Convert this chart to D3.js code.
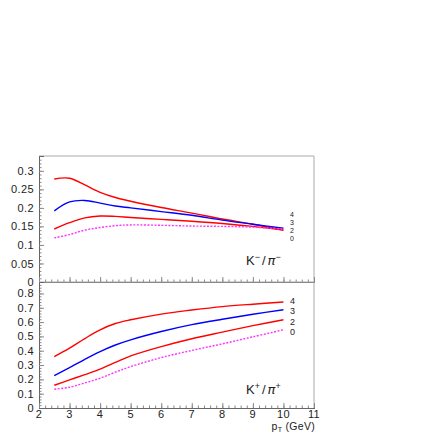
<!DOCTYPE html>
<html><head><meta charset="utf-8">
<script src="https://cdn.jsdelivr.net/npm/d3@7"></script>
<style>
body{margin:0;background:#fff;}
text{font-family:"Liberation Sans",Arial,Helvetica,sans-serif;}
</style></head>
<body><svg id="c" width="425" height="440"></svg>
<script>
// ---- data ----
const pT = [2.5, 3, 3.5, 4, 4.5, 5, 6, 7, 8, 9, 10];
const seriesNames = ["4", "3", "2", "0"];
// K-/pi- (top panel)
const kmRed4  = [0.278, 0.280, 0.262, 0.242, 0.228, 0.218, 0.201, 0.186, 0.170, 0.156, 0.140];
const kmBlue3 = [0.192, 0.216, 0.220, 0.213, 0.205, 0.200, 0.190, 0.180, 0.167, 0.156, 0.145];
const kmRed2  = [0.143, 0.160, 0.173, 0.178, 0.177, 0.174, 0.169, 0.164, 0.158, 0.150, 0.140];
const kmMag0  = [0.119, 0.128, 0.140, 0.147, 0.152, 0.154, 0.153, 0.151, 0.150, 0.148, 0.143];
// K+/pi+ (bottom panel)
const kpRed4  = [0.359, 0.418, 0.485, 0.546, 0.590, 0.616, 0.656, 0.684, 0.708, 0.725, 0.740];
const kpBlue3 = [0.226, 0.282, 0.340, 0.394, 0.440, 0.476, 0.534, 0.582, 0.620, 0.655, 0.686];
const kpRed2  = [0.159, 0.196, 0.233, 0.271, 0.318, 0.364, 0.429, 0.484, 0.530, 0.575, 0.616];
const kpMag0  = [0.131, 0.145, 0.175, 0.208, 0.250, 0.289, 0.352, 0.402, 0.448, 0.497, 0.546];
const topTicks = [0, 0.05, 0.1, 0.15, 0.2, 0.25, 0.3];
const botTicks = [0, 0.1, 0.2, 0.3, 0.4, 0.5, 0.6, 0.7, 0.8];
const xTicks = [2, 3, 4, 5, 6, 7, 8, 9, 10, 11];

// ---- layout ----
const L = 39, R = 314, T1 = 156, B1 = 282, B2 = 408;
const svg = d3.select("#c");
const x = d3.scaleLinear().domain([2, 11]).range([L, R]);
const yTop = d3.scaleLinear().domain([0, 0.34]).range([B1, T1]);
const yBot = d3.scaleLinear().domain([0, 0.88]).range([B2, B1]);

const colors = ["#ff0000", "#0000ff", "#ff0000", "#ff33ff"];

function panel(y, ticks, minorStep, data, labelYs, labelSize) {
  const [y0, y1] = y.range();
  svg.append("path").attr("d", `M${L},${y1}H${R}V${y0}`).attr("fill","none").attr("stroke","#aaa").attr("stroke-width",1);
  const minor = d3.range(0, y.domain()[1] + 1e-9, minorStep);
  const gm = svg.append("g").attr("transform", `translate(${L},0)`)
    .call(d3.axisLeft(y).tickValues(minor).tickSize(-2.5).tickFormat(""));
  const gM = svg.append("g").attr("transform", `translate(${L},0)`)
    .call(d3.axisLeft(y).tickValues(ticks).tickSize(-5).tickPadding(5).tickFormat(d => d3.format("")(+d.toFixed(2))));
  const xminor = d3.range(2, 11.0001, 0.2);
  const gxm = svg.append("g").attr("transform", `translate(0,${y0})`)
    .call(d3.axisBottom(x).tickValues(xminor).tickSize(-2.5).tickFormat(""));
  const gx = svg.append("g").attr("transform", `translate(0,${y0})`)
    .call(d3.axisBottom(x).tickValues(xTicks).tickSize(-5).tickPadding(4).tickFormat(""));
  [gm, gM, gxm, gx].forEach(g => {
    g.selectAll(".domain").attr("stroke", "#666");
    g.selectAll(".tick line").attr("stroke", "#888");
    g.selectAll("text").attr("font-size", 11).attr("fill", "#222").attr("letter-spacing", 0.4)
      .attr("font-family", '"Liberation Sans",Arial,sans-serif');
  });
  const line = d3.line().x((d, i) => x(pT[i])).y(d => y(d)).curve(d3.curveCatmullRom.alpha(0.5));
  data.forEach((arr, k) => {
    svg.append("path").attr("d", line(arr)).attr("fill", "none")
      .attr("stroke", colors[k]).attr("stroke-width", 1.4)
      .attr("stroke-dasharray", k === 3 ? "2,1.5" : null);
  });
  seriesNames.forEach((s, k) => {
    svg.append("text").attr("x", 290).attr("y", labelYs[k]).attr("font-size", labelSize)
      .attr("fill", "#222").text(s);
  });
}

panel(yTop, topTicks, 0.01, [kmRed4, kmBlue3, kmRed2, kmMag0], [217, 225, 233, 241], 7);
panel(yBot, botTicks, 0.02, [kpRed4, kpBlue3, kpRed2, kpMag0], [303.5, 314, 324.5, 335], 9);

svg.append("g").selectAll("text").data(xTicks).join("text")
  .attr("x", d => x(d)).attr("y", 418).attr("text-anchor", "middle").attr("letter-spacing", 0.4)
  .attr("font-size", 11).attr("fill", "#222").text(d => d);

const at = svg.append("text").attr("x", 315).attr("y", 430).attr("text-anchor", "end")
  .attr("font-size", 10.5).attr("fill", "#222").attr("letter-spacing", 0.3);
at.append("tspan").text("p");
at.append("tspan").attr("font-size", 7).attr("dy", 2).text("T");
at.append("tspan").attr("dy", -2).text(" (GeV)");

function ratioLabel(xp, yp, sign) {
  const t = svg.append("text").attr("x", xp).attr("y", yp).attr("font-size", 13).attr("fill", "#222");
  t.append("tspan").text("K");
  t.append("tspan").attr("font-size", 9).attr("dy", -5).text(sign);
  t.append("tspan").attr("dy", 5).attr("dx", 2).text("/");
  t.append("tspan").attr("dx", 2).attr("font-family", '"DejaVu Sans",sans-serif').attr("font-style","italic").text("\u03c0");
  t.append("tspan").attr("font-size", 9).attr("dy", -5).text(sign);
}
ratioLabel(246, 265, "\u2212");
ratioLabel(246, 394, "+");
</script></body></html>
